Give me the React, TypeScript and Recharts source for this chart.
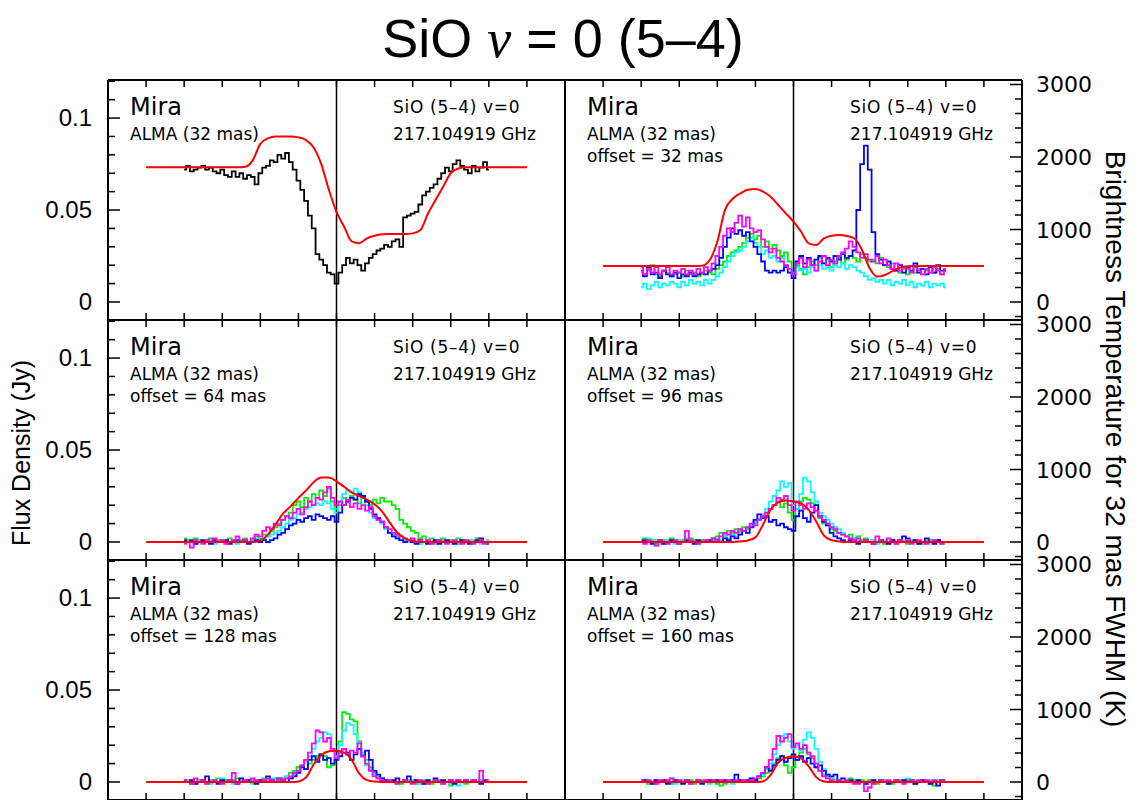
import React from 'react'
import { LineChart, Line, XAxis, YAxis, ReferenceLine } from 'recharts'

// velocity grids (km/s relative to systemic)
const VEL_OBS = [
  -20, -19.5, -19, -18.5, -18, -17.5, -17, -16.5, -16, -15.5,
  -15, -14.5, -14, -13.5, -13, -12.5, -12, -11.5, -11, -10.5,
  -10, -9.5, -9, -8.5, -8, -7.5, -7, -6.5, -6, -5.5,
  -5, -4.5, -4, -3.5, -3, -2.5, -2, -1.5, -1, -0.5,
  0, 0.5, 1, 1.5, 2, 2.5, 3, 3.5, 4, 4.5,
  5, 5.5, 6, 6.5, 7, 7.5, 8, 8.5, 9, 9.5,
  10, 10.5, 11, 11.5, 12, 12.5, 13, 13.5, 14, 14.5,
  15, 15.5, 16, 16.5, 17, 17.5, 18, 18.5, 19, 19.5,
  20,
]
const VEL_MODEL = [
  -25, -24, -23, -22, -21, -20, -19, -18, -17, -16,
  -15, -14, -13, -12, -11, -10, -9, -8, -7, -6,
  -5, -4, -3, -2, -1, 0, 1, 2, 3, 4,
  5, 6, 7, 8, 9, 10, 11, 12, 13, 14,
  15, 16, 17, 18, 19, 20, 21, 22, 23, 24,
  25,
]

// flux densities in mJy
const P1_BLACK = [
  72, 74, 71, 72, 73, 74, 72, 73, 71, 70,
  72, 69, 68, 71, 68, 70, 67, 69, 68, 64,
  70, 73, 74, 77, 76, 80, 78, 81, 76, 72,
  66, 61, 55, 47, 40, 26, 23, 20, 16, 15,
  10, 16, 20, 24, 21, 23, 20, 17, 21, 24,
  26, 28, 29, 31, 30, 33, 34, 30, 46, 47,
  48, 49, 53, 58, 60, 62, 64, 67, 70, 73,
  71, 75, 77, 74, 72, 70, 74, 71, 73, 76,
  72,
]
const P1_MODEL = [
  73.2, 73.2, 73.2, 73.2, 73.2, 73.2, 73.2, 73.2, 73.2, 73.2,
  73.2, 73.2, 73.2, 73.5, 77, 86, 89, 90, 90, 90,
  89.5, 88, 84, 75, 61, 49, 41, 33, 32, 34.6,
  36, 36.8, 37, 37, 37, 37.3, 39, 48, 55.4, 62.7,
  70, 72.6, 73.2, 73.2, 73.2, 73.2, 73.2, 73.2, 73.2, 73.2,
  73.2,
]

const P2_BLUE = [
  17, 14, 19, 15, 16, 13, 17, 15, 14, 16,
  13, 15, 14, 16, 14, 15, 16, 15, 17, 18,
  20, 24, 30, 35, 40, 37, 39, 36, 38, 33,
  30, 26, 22, 17, 16, 17, 16, 17, 19, 16,
  13, 22, 25, 21, 24, 20, 23, 25, 21, 24,
  22, 25, 23, 26, 24, 25, 28, 50, 75, 85,
  72, 38, 26, 23, 20, 22, 18, 17, 20, 16,
  19, 17, 21, 16, 18, 15, 19, 16, 20, 17,
  17,
]
const P2_GREEN = [
  16, 15, 17, 20, 15, 14, 17, 16, 14, 15,
  16, 14, 17, 15, 16, 14, 15, 17, 16, 15,
  18, 20, 22, 25, 27, 28, 30, 32, 35, 37,
  34, 36, 30, 33, 29, 31, 28, 25, 27, 22,
  16, 20, 18, 15, 19, 22, 20, 24, 21, 23,
  19, 22, 24, 21, 23, 25, 24, 22, 26, 24,
  22, 23, 21, 24, 20, 19, 21, 17, 16, 18,
  15, 17, 16, 18, 15, 17, 19, 16, 18, 15,
  17,
]
const P2_CYAN = [
  8, 10, 7, 9, 11, 8, 10, 9, 11, 10,
  8, 11, 9, 12, 10, 11, 9, 12, 10, 12,
  14, 16, 19, 22, 25, 27, 28, 30, 33, 35,
  32, 30, 26, 28, 24, 25, 22, 24, 20, 18,
  15, 19, 17, 18, 16, 19, 17, 20, 18, 19,
  17, 20, 19, 21, 18, 20, 19, 17, 16, 14,
  12, 13, 11, 12, 10, 12, 9, 11, 10, 12,
  9, 11, 8, 10, 9, 11, 8, 10, 9, 10,
  8,
]
const P2_MAGENTA = [
  19, 15, 18, 16, 19, 15, 17, 19, 15, 17,
  16, 18, 15, 17, 15, 18, 16, 19, 17, 21,
  25, 30, 36, 40, 38, 43, 47, 41, 46, 40,
  38, 39, 34, 30, 27, 29, 24, 22, 20, 18,
  15, 21, 24, 19, 23, 20, 17, 22, 25, 20,
  23, 21, 25, 27, 29, 33, 30, 27, 24, 26,
  23, 22, 25, 21, 23, 20, 18, 21, 17, 19,
  18, 16, 19, 17, 15, 18, 16, 19, 17, 15,
  18,
]
const P2_MODEL = [
  19.6, 19.6, 19.6, 19.6, 19.6, 19.6, 19.6, 19.6, 19.6, 19.6,
  19.6, 19.6, 19.6, 19.7, 22.8, 32.8, 50, 56, 59, 61,
  61.4, 60, 57.2, 52.7, 48.2, 43.7, 38.2, 31.9, 31, 34.6,
  36, 36.4, 35.9, 34.6, 28.3, 18.3, 13.8, 14.7, 16.8, 18.7,
  19.4, 19.6, 19.6, 19.6, 19.6, 19.6, 19.6, 19.6, 19.6, 19.6,
  19.6,
]

const P3_BLUE = [
  1, 0, 1, -1, 0, 1, 0, -1, 1, 0,
  0, 1, -1, 0, 1, 0, 1, -1, 0, 1,
  0, 1, 0, 1, 2, 4, 5, 7, 9, 10,
  12, 11, 13, 14, 12, 15, 14, 13, 12, 14,
  11, 16, 20, 22, 24, 23, 26, 25, 22, 18,
  15, 13, 11, 8, 5, 3, 2, 1, 0, 1,
  0, -1, 1, 0, -1, 0, 1, -1, 0, 1,
  0, -1, 0, 1, 0, -1, 0, 1, 2, 0,
  -1,
]
const P3_GREEN = [
  2, 1, 0, 2, 1, 0, 1, 2, 0, 1,
  1, 0, 2, 1, 0, 1, 2, 0, 1, 3,
  2, 4, 3, 6, 8, 10, 12, 14, 16, 20,
  22, 19, 24, 22, 26, 24, 28, 25, 29, 22,
  18, 20, 24, 22, 25, 23, 21, 24, 22, 20,
  23, 21, 24, 22, 22, 20, 18, 12, 10, 8,
  6, 5, 2, 3, 1, 2, 0, 1, 2, 0,
  1, 0, 2, 1, 0, 1, 0, 2, 1, 0,
  1,
]
const P3_CYAN = [
  0, 1, 0, -1, 1, 0, 0, 1, -1, 0,
  1, 0, 0, 1, -1, 0, 1, 0, 1, 2,
  1, 2, 3, 4, 5, 6, 8, 10, 12, 13,
  15, 16, 18, 19, 20, 21, 20, 22, 21, 18,
  16, 22, 26, 28, 27, 29, 27, 24, 20, 16,
  13, 12, 10, 7, 5, 4, 3, 1, 1, 0,
  1, 0, -1, 0, 1, 0, -1, 0, 1, 0,
  0, 1, -1, 0, 1, 0, 1, 0, -1, 0,
  1,
]
const P3_MAGENTA = [
  -1, 0, -3, 1, 0, -1, 1, 0, 2, 0,
  1, -1, 0, 1, 3, 0, 1, 0, 2, 4,
  3, 6, 8, 7, 10, 9, 12, 14, 13, 16,
  18, 15, 19, 22, 20, 24, 23, 27, 30, 24,
  20, 22, 20, 23, 19, 21, 18, 20, 17, 19,
  14, 12, 11, 8, 7, 5, 4, 3, 2, 1,
  2, 0, 1, 0, 1, -1, 0, 1, 0, -1,
  0, 1, 0, -1, 1, 0, -1, 0, 1, -1,
  0,
]
const P3_MODEL = [
  0, 0, 0, 0, 0, 0, 0, 0, 0, 0,
  0, 0, 0, 0, 0, 0.8, 4, 9.5, 15.5, 19.5,
  24, 28, 32.5, 35, 35, 33, 30, 27, 25, 23,
  20.5, 16.5, 10.5, 5, 2, 0.5, 0, 0, 0, 0,
  0, 0, 0, 0, 0, 0, 0, 0, 0, 0,
  0,
]

const P4_BLUE = [
  0, 1, 0, -1, 0, 1, -1, 0, 1, 0,
  -1, 0, 1, 0, -1, 1, 0, 0, 1, 0,
  1, 0, 2, 1, 3, 2, 4, 6, 5, 8,
  12, 15, 13, 14, 11, 12, 9, 10, 8, 7,
  6, 14, 17, 13, 11, 16, 20, 14, 11, 9,
  5, 3, 2, 1, 0, 1, 0, -1, 0, 1,
  0, -1, 0, 1, 0, -1, 1, 0, 1, 3,
  2, 0, 1, -1, 0, 2, 0, -1, 1, 0,
  0,
]
const P4_GREEN = [
  1, 2, 0, 1, -1, 0, 1, 0, 2, 1,
  0, 1, 0, 2, 1, 0, 1, 0, 1, 2,
  3, 5, 4, 6, 5, 7, 6, 8, 7, 9,
  10, 12, 14, 16, 18, 20, 22, 19, 21, 16,
  12, 18, 22, 24, 23, 21, 17, 13, 10, 9,
  7, 6, 5, 4, 3, 4, 2, 3, 1, 2,
  0, 1, 0, 1, -1, 0, 1, 0, 1, 0,
  -1, 0, 1, 0, -1, 0, 1, 0, 1, 0,
  0,
]
const P4_CYAN = [
  1, 0, 2, 0, 1, -1, 0, 1, 0, -1,
  1, 0, 2, 1, 0, -1, 0, 1, 0, 1,
  2, 1, 3, 2, 4, 3, 5, 6, 8, 9,
  11, 13, 15, 18, 22, 25, 28, 33, 30, 32,
  20, 18, 26, 35, 33, 27, 22, 16, 14, 12,
  10, 8, 7, 5, 3, 2, 2, 1, 0, 1,
  0, 1, -1, 0, 1, 0, 1, -1, 0, 1,
  0, 1, 0, -1, 0, 1, 0, 1, 0, -1,
  0,
]
const P4_MAGENTA = [
  0, -1, 1, 0, -2, 1, 0, -1, 0, 1,
  -1, 0, 6, 1, 0, -1, 0, 1, 0, 2,
  1, 3, 5, 4, 6, 5, 7, 6, 8, 10,
  9, 12, 14, 16, 18, 20, 24, 23, 25, 20,
  17, 22, 20, 18, 21, 19, 17, 14, 12, 10,
  8, 7, 5, 4, 3, 2, 1, 2, 0, 1,
  0, -1, 3, 1, 0, 2, 0, -1, 1, 0,
  1, -1, 0, 1, 0, -1, 0, 1, 0, -1,
  0,
]
const P4_MODEL = [
  0, 0, 0, 0, 0, 0, 0, 0, 0, 0,
  0, 0, 0, 0, 0, 0, 0, 0, 0.3, 0.8,
  2.5, 9.5, 17.5, 21.5, 22.5, 22, 21, 17.4, 11, 3.5,
  1, 0.3, 0, 0, 0, 0, 0, 0, 0, 0,
  0, 0, 0, 0, 0, 0, 0, 0, 0, 0,
  0,
]

const P5_BLUE = [
  1, 0, 1, -1, 0, 1, 3, 0, 0, -1,
  1, 0, 1, 0, -1, 2, 0, 1, 0, -1,
  1, 0, 3, 1, 0, 2, 1, 0, 2, 3,
  5, 8, 7, 12, 14, 11, 15, 12, 13, 10,
  12, 14, 18, 16, 12, 15, 18, 14, 17, 12,
  6, 4, 2, 1, 0, 1, 2, 0, 1, 3,
  0, 1, 0, -1, 1, 0, 2, 0, 1, 0,
  1, -1, 1, 0, 1, 0, 1, 0, -1, 1,
  0,
]
const P5_GREEN = [
  0, 1, -1, 0, 1, 0, -1, 1, 0, 2,
  0, 1, 0, 1, 2, 0, 1, 0, 1, 0,
  1, 2, 1, 0, 2, 1, 2, 3, 5, 6,
  8, 9, 7, 10, 12, 14, 15, 14, 8, 9,
  13, 22, 38, 37, 34, 33, 22, 15, 12, 8,
  5, 3, 2, 1, 0, 1, 0, -1, 0, 1,
  0, -1, 0, 1, 0, -1, 0, 1, -1, 0,
  -2, 0, 1, 0, -1, 0, 1, 0, 1, 0,
  0,
]
const P5_CYAN = [
  0, 1, 0, -1, 1, 0, 0, -1, 1, 0,
  2, 0, 1, -1, 0, 1, 0, 1, -1, 0,
  1, 0, 1, 2, 1, 2, 1, 3, 2, 4,
  6, 8, 11, 14, 18, 22, 24, 27, 26, 18,
  14, 20, 28, 32, 31, 26, 18, 16, 9, 7,
  4, 2, 1, 0, 1, 0, -1, 0, 1, 0,
  1, 0, -1, 0, 1, 0, 1, 0, -1, 0,
  -1, 0, -2, 0, 1, 0, 1, 0, 1, 0,
  0,
]
const P5_MAGENTA = [
  1, 0, -1, 2, 0, 1, -1, 0, 1, 0,
  -1, 0, 1, 5, -1, 0, 1, 0, 2, 1,
  0, 1, 2, 1, 0, 2, 1, 2, 3, 5,
  6, 9, 12, 16, 21, 28, 27, 22, 24, 18,
  13, 16, 18, 15, 17, 16, 21, 14, 10, 6,
  3, 2, 1, 0, 1, 0, -1, 0, 1, 0,
  -1, 0, 1, 0, -1, 0, 1, 0, -1, 0,
  1, 0, 1, 0, 1, 0, 1, 0, 6, 0,
  1,
]
const P5_MODEL = [
  0, 0, 0, 0, 0, 0, 0, 0, 0, 0,
  0, 0, 0, 0, 0, 0, 0, 0, 0, 0,
  0.3, 2.5, 9.5, 14.5, 16.7, 17, 16, 12, 4.5, 1,
  0.2, 0, 0, 0, 0, 0, 0, 0, 0, 0,
  0, 0, 0, 0, 0, 0, 0, 0, 0, 0,
  0,
]

const P6_BLUE = [
  0, 1, 0, -1, 1, 0, 1, -1, 0, 1,
  0, -1, 1, 0, 0, 1, -1, 0, 1, 0,
  1, 0, 1, 0, 1, 4, 1, 0, 1, 2,
  1, 3, 5, 8, 6, 9, 12, 14, 11, 13,
  15, 12, 14, 11, 13, 10, 8, 9, 6, 4,
  3, 4, 1, 2, 0, 1, 0, 1, 0, -1,
  0, 1, 0, 1, 0, -1, 0, 1, 0, 1,
  0, 1, -1, 0, 1, 0, -1, 0, -2, 1,
  0,
]
const P6_GREEN = [
  1, 0, -1, 0, 1, 0, 1, 0, -1, 1,
  0, 1, 0, 1, -1, 0, 1, 0, 1, 0,
  -1, -2, -1, 0, 1, 0, 1, 0, 1, 0,
  1, 2, 3, 5, 7, 10, 13, 14, 9, 5,
  8, 12, 16, 18, 15, 13, 8, 6, 4, 3,
  2, 1, 0, 1, 0, 2, 1, 0, 1, 0,
  1, 0, -1, 0, 1, 0, -1, 0, 1, 0,
  1, 0, -1, 0, 1, 0, -1, -2, 0, 1,
  0,
]
const P6_CYAN = [
  0, 1, 0, -1, 1, 0, 1, 0, 2, -1,
  0, 1, 0, -1, 0, 1, 0, 1, -1, 0,
  1, 0, 1, 0, -1, 0, 1, 0, 1, 2,
  1, 3, 4, 7, 10, 15, 20, 25, 26, 22,
  18, 20, 17, 23, 27, 24, 18, 11, 7, 4,
  2, 1, 0, 1, 0, 1, 0, 1, 0, -1,
  0, 1, 0, 1, 0, -1, 0, 1, 0, 1,
  2, 0, 1, 0, 1, 0, 1, 0, 1, 0,
  1,
]
const P6_MAGENTA = [
  1, 0, 1, 0, -1, 1, 0, 1, 2, 0,
  1, 0, 1, -1, 0, 1, 0, 1, 0, 1,
  0, 1, 0, 1, 0, 1, 0, 1, 0, 1,
  2, 3, 5, 8, 12, 18, 25, 22, 24, 26,
  19, 21, 18, 20, 16, 14, 10, 6, 3, 2,
  1, 0, 1, 0, 1, 0, -1, -1, 0, -5,
  -3, -1, 0, 1, 0, 1, 0, 1, 0, -1,
  0, 1, 0, 1, 0, 1, 0, 1, 0, 1,
  0,
]
const P6_MODEL = [
  0, 0, 0, 0, 0, 0, 0, 0, 0, 0,
  0, 0, 0, 0, 0, 0, 0, 0, 0, 0,
  0, 0.3, 3.8, 10.5, 13.2, 13.8, 12.8, 8.5, 2.5, 0.3,
  0, 0, 0, 0, 0, 0, 0, 0, 0, 0,
  0, 0, 0, 0, 0, 0, 0, 0, 0, 0,
  0,
]

const X_TICKS = [-25, -20, -15, -10, -5, 0, 5, 10, 15, 20, 25]
const JY_TICKS = [0, 10, 20, 30, 40, 50, 60, 70, 80, 90, 100, 110, 120]
const JY_LABELS: Record<number, string> = { 0: '0', 50: '0.05', 100: '0.1' }
const K_TICKS = [
  -200, 0, 200, 400, 600, 800, 1000, 1200, 1400, 1600, 1800, 2000, 2200, 2400, 2600, 2800, 3000,
]
const K_LABELS = [0, 1000, 2000, 3000]
const OFFSETS = [null, 32, 64, 96, 128, 160]

const BLACK = '#000000'
const RED = '#ff0000'
const BLUE = '#0000ff'
const GREEN = '#00ee00'
const CYAN = '#00ffff'
const MAGENTA = '#ff00ff'

const PANEL_W = 457
const PANEL_H = 240
const AXIS_W = 100
const PAD = 20

const SANS = '"Liberation Sans", Arial, sans-serif'
const HERSHEY = '"DejaVu Sans", sans-serif'

const toPoints = (vels: number[], vals: number[]) =>
  vals.map((y, i) => ({ v: vels[i], y }))

type Spectrum = { name: string; values: number[]; color: string }
type PanelDef = {
  left: number
  top: number
  side: 'left' | 'right'
  observed: Spectrum[]
  model: number[]
}

const PANELS: PanelDef[] = [
  { left: 108, top: 80, side: 'left', model: P1_MODEL, observed: [{ name: 'obs', values: P1_BLACK, color: BLACK }] },
  {
    left: 565, top: 80, side: 'right', model: P2_MODEL,
    observed: [
      { name: 'g', values: P2_GREEN, color: GREEN },
      { name: 'c', values: P2_CYAN, color: CYAN },
      { name: 'b', values: P2_BLUE, color: BLUE },
      { name: 'm', values: P2_MAGENTA, color: MAGENTA },
    ],
  },
  {
    left: 108, top: 320, side: 'left', model: P3_MODEL,
    observed: [
      { name: 'g', values: P3_GREEN, color: GREEN },
      { name: 'c', values: P3_CYAN, color: CYAN },
      { name: 'b', values: P3_BLUE, color: BLUE },
      { name: 'm', values: P3_MAGENTA, color: MAGENTA },
    ],
  },
  {
    left: 565, top: 320, side: 'right', model: P4_MODEL,
    observed: [
      { name: 'g', values: P4_GREEN, color: GREEN },
      { name: 'c', values: P4_CYAN, color: CYAN },
      { name: 'b', values: P4_BLUE, color: BLUE },
      { name: 'm', values: P4_MAGENTA, color: MAGENTA },
    ],
  },
  {
    left: 108, top: 560, side: 'left', model: P5_MODEL,
    observed: [
      { name: 'g', values: P5_GREEN, color: GREEN },
      { name: 'c', values: P5_CYAN, color: CYAN },
      { name: 'b', values: P5_BLUE, color: BLUE },
      { name: 'm', values: P5_MAGENTA, color: MAGENTA },
    ],
  },
  {
    left: 565, top: 560, side: 'right', model: P6_MODEL,
    observed: [
      { name: 'g', values: P6_GREEN, color: GREEN },
      { name: 'c', values: P6_CYAN, color: CYAN },
      { name: 'b', values: P6_BLUE, color: BLUE },
      { name: 'm', values: P6_MAGENTA, color: MAGENTA },
    ],
  },
]

// PGPLOT style ticks: drawn inwards from the frame
const BottomTick = (props: any) => (
  <line x1={props.x} x2={props.x} y1={props.y} y2={props.y - 7} stroke={BLACK} strokeWidth={1.5} />
)
const TopTick = (props: any) => (
  <line x1={props.x} x2={props.x} y1={props.y} y2={props.y + 7} stroke={BLACK} strokeWidth={1.5} />
)
const JyTick = (props: any) => {
  const { x, y, payload } = props
  const major = payload.value % 50 === 0
  const label = JY_LABELS[payload.value]
  return (
    <g>
      <line x1={x} x2={x + (major ? 12 : 7)} y1={y} y2={y} stroke={BLACK} strokeWidth={1.5} />
      {label !== undefined && (
        <text x={x - 16} y={y + 8} textAnchor="end" fontFamily={SANS} fontSize={24} fill={BLACK}>
          {label}
        </text>
      )}
    </g>
  )
}
const KTick = (props: any) => {
  const { x, y, payload } = props
  const major = payload.value % 1000 === 0
  return (
    <g>
      <line x1={x} x2={x - (major ? 12 : 7)} y1={y} y2={y} stroke={BLACK} strokeWidth={1.5} />
      {K_LABELS.includes(payload.value) && (
        <text x={x + 14} y={y + 8} textAnchor="start" fontFamily={HERSHEY} fontSize={22} fill={BLACK}>
          {payload.value}
        </text>
      )}
    </g>
  )
}

const FRAME = { stroke: BLACK, strokeWidth: 2 }

function Panel({ p }: { p: PanelDef }) {
  const isLeft = p.side === 'left'
  return (
    <div style={{ position: 'absolute', left: p.left - AXIS_W, top: p.top - PAD - 1 }}>
      <LineChart
        width={PANEL_W + 2 * AXIS_W}
        height={PANEL_H + 2 * PAD + 2}
        margin={{ top: PAD, right: 0, bottom: PAD, left: 0 }}
      >
        <XAxis
          xAxisId="b"
          type="number"
          dataKey="v"
          orientation="bottom"
          domain={[-30, 30]}
          ticks={X_TICKS}
          interval={0}
          height={1}
          tickSize={0}
          tickMargin={0}
          tickLine={false}
          tick={<BottomTick />}
          axisLine={FRAME}
          allowDataOverflow
        />
        <XAxis
          xAxisId="t"
          type="number"
          dataKey="v"
          orientation="top"
          domain={[-30, 30]}
          ticks={X_TICKS}
          interval={0}
          height={1}
          tickSize={0}
          tickMargin={0}
          tickLine={false}
          tick={<TopTick />}
          axisLine={FRAME}
          allowDataOverflow
        />
        <YAxis
          yAxisId="jy"
          orientation="left"
          width={AXIS_W}
          domain={[-9.8, 120.7]}
          ticks={JY_TICKS}
          interval={0}
          tickSize={0}
          tickMargin={0}
          tickLine={false}
          tick={isLeft ? <JyTick /> : false}
          axisLine={FRAME}
          allowDataOverflow
        />
        <YAxis
          yAxisId="k"
          orientation="right"
          width={AXIS_W}
          domain={[-248, 3062]}
          ticks={K_TICKS}
          interval={0}
          tickSize={0}
          tickMargin={0}
          tickLine={false}
          tick={isLeft ? false : <KTick />}
          axisLine={FRAME}
          allowDataOverflow
        />
        <ReferenceLine xAxisId="b" yAxisId="jy" x={0} stroke={BLACK} strokeWidth={1.5} />
        {p.observed.map((s) => (
          <Line
            key={s.name}
            xAxisId="b"
            yAxisId="jy"
            data={toPoints(VEL_OBS, s.values)}
            dataKey="y"
            type="step"
            stroke={s.color}
            strokeWidth={1.8}
            dot={false}
            activeDot={false}
            isAnimationActive={false}
          />
        ))}
        <Line
          xAxisId="b"
          yAxisId="jy"
          data={toPoints(VEL_MODEL, p.model)}
          dataKey="y"
          type="monotone"
          stroke={RED}
          strokeWidth={2}
          dot={false}
          activeDot={false}
          isAnimationActive={false}
        />
      </LineChart>
    </div>
  )
}

export default function App() {
  return (
    <div
      style={{
        position: 'absolute',
        left: 0,
        top: 0,
        width: 1147,
        height: 800,
        overflow: 'hidden',
        background: '#fff',
      }}
    >
      {PANELS.map((p, i) => (
        <Panel key={i} p={p} />
      ))}
      <svg
        width={1147}
        height={800}
        style={{ position: 'absolute', left: 0, top: 0, pointerEvents: 'none' }}
      >
        <text x={563} y={57} textAnchor="middle" fontFamily={SANS} fontSize={54} fill={BLACK}>
          SiO{' '}
          <tspan fontFamily='"Liberation Serif", serif' fontStyle="italic">
            v
          </tspan>{' '}
          = 0 (5–4)
        </text>
        <text
          transform="translate(30, 453) rotate(-90)"
          textAnchor="middle"
          fontFamily={SANS}
          fontSize={25}
          fill={BLACK}
        >
          Flux Density (Jy)
        </text>
        <text
          transform="translate(1106, 439) rotate(90)"
          textAnchor="middle"
          fontFamily={SANS}
          fontSize={28}
          fill={BLACK}
        >
          Brightness Temperature for 32 mas FWHM (K)
        </text>
        {PANELS.map((p, i) => (
          <g key={i} fontFamily={HERSHEY} fill={BLACK}>
            <text x={p.left + 22} y={p.top + 35} fontSize={24}>
              Mira
            </text>
            <text x={p.left + 22} y={p.top + 60} fontSize={17}>
              ALMA (32 mas)
            </text>
            {OFFSETS[i] !== null && (
              <text x={p.left + 22} y={p.top + 82} fontSize={17}>
                offset = {OFFSETS[i]} mas
              </text>
            )}
            <text x={p.left + 285} y={p.top + 33} fontSize={17} letterSpacing={0.7}>
              SiO (5–4) v=0
            </text>
            <text x={p.left + 285} y={p.top + 60} fontSize={17}>
              217.104919 GHz
            </text>
          </g>
        ))}
      </svg>
    </div>
  )
}
